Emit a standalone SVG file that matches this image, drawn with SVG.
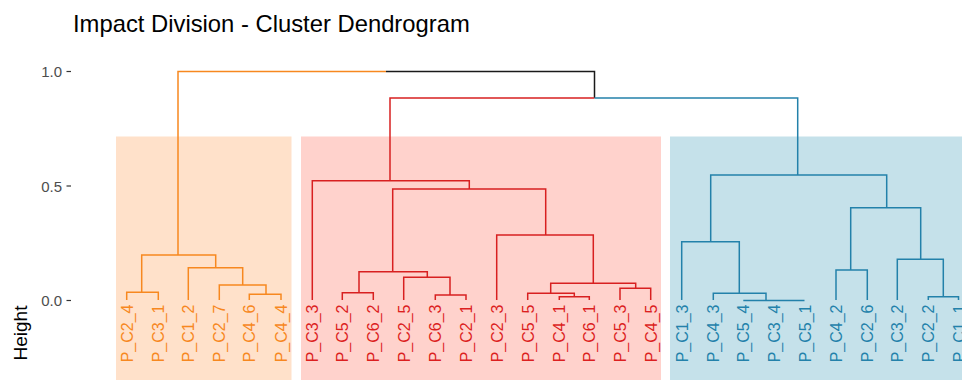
<svg xmlns="http://www.w3.org/2000/svg" width="962" height="380" viewBox="0 0 962 380">
<style>
.t{font-family:"Liberation Sans",Arial,sans-serif}
.lf{font-size:16px;text-anchor:end}
.o{fill:#F7881F}.r{fill:#DC1F1F}.b{fill:#2381AA}
.so{stroke:#F7881F}.sr{stroke:#D82020}.sb{stroke:#2381AA}.sk{stroke:#1a1a1a}
.ln{fill:none;stroke-width:1.5}
.tick{stroke:#333;stroke-width:1.2}
.ax{font-size:15px;fill:#4d4d4d;text-anchor:end}
</style>
<rect width="962" height="380" fill="#fff"/>
<g id="cluster-rects">
<rect x="116" y="136.5" width="175.5" height="243.5" fill="#FFE1CA"/>
<rect x="301" y="136.5" width="360" height="243.5" fill="#FFD2CC"/>
<rect x="670" y="136.5" width="292" height="243.5" fill="#C5E1EA"/>
</g>
<text class="t" x="73" y="31.5" font-size="23.8" fill="#000">Impact Division - Cluster Dendrogram</text>
<g id="axis">
<line class="tick" x1="66.5" y1="71.5" x2="71" y2="71.5"/>
<line class="tick" x1="66.5" y1="186" x2="71" y2="186"/>
<line class="tick" x1="66.5" y1="300.5" x2="71" y2="300.5"/>
<text class="t ax" x="62" y="77">1.0</text>
<text class="t ax" x="62" y="191.5">0.5</text>
<text class="t ax" x="62" y="306">0.0</text>
<text class="t" transform="translate(27,333) rotate(-90)" text-anchor="middle" font-size="19" fill="#000">Height</text>
</g>
<g id="connectors" class="ln">
<path class="sk" d="M386,71.5 H594.5 V98"/>
<path class="so" d="M386,71.5 H178 V255 M141.7,292.3 V255 H215.7 V267.7 M126.7,300 V292.3 H158.3 V300 M188.3,300 V267.7 H242.7 V285 M219.3,300 V285 H266 V294.3 M249.3,300 V294.3 H281 V300"/>
<path class="sr" d="M594.5,98 H390 V180.7 M312.3,300 V180.7 H469.3 V189 M392.7,271.7 V189 H545.7 V235 M359,292.7 V271.7 H427.3 V277.3 M342.3,300 V292.7 H373.3 V300 M403.7,300 V277.3 H450 V295 M435.3,300 V295 H466 V300 M496.7,300 V235 H593.3 V283.3 M550.7,293.3 V283.3 H635.7 V288.3 M527.7,300 V293.3 H574.3 V296.7 M559.3,300 V296.7 H589.3 V300 M620,300 V288.3 H650.7 V300"/>
<path class="sb" d="M594.5,98 H797.7 V175 M710.7,241.7 V175 H886.7 V207.7 M681.7,300 V241.7 H739.3 V293.3 M713.3,300 V293.3 H766 V300.5 M743.3,300.5 H804.5 M850.7,270 V207.7 H920.7 V259.3 M836,300 V270 H867.3 V300 M897.3,300 V259.3 H943.3 V296.7 M928.3,300 V296.7 H958.5 V300"/>
</g>
<g id="leaves">
<g id="P_C2_4"><text class="t lf o" transform="translate(126.7,304.5) rotate(-90)" dy="0.38em">P_C2_4</text></g>
<g id="P_C3_1"><text class="t lf o" transform="translate(158.3,304.5) rotate(-90)" dy="0.38em">P_C3_1</text></g>
<g id="P_C1_2"><text class="t lf o" transform="translate(188.3,304.5) rotate(-90)" dy="0.38em">P_C1_2</text></g>
<g id="P_C2_7"><text class="t lf o" transform="translate(219.3,304.5) rotate(-90)" dy="0.38em">P_C2_7</text></g>
<g id="P_C4_6"><text class="t lf o" transform="translate(249.3,304.5) rotate(-90)" dy="0.38em">P_C4_6</text></g>
<g id="P_C4_4"><text class="t lf o" transform="translate(281,304.5) rotate(-90)" dy="0.38em">P_C4_4</text></g>
<g id="P_C3_3"><text class="t lf r" transform="translate(312.3,304.5) rotate(-90)" dy="0.38em">P_C3_3</text></g>
<g id="P_C5_2"><text class="t lf r" transform="translate(342.3,304.5) rotate(-90)" dy="0.38em">P_C5_2</text></g>
<g id="P_C6_2"><text class="t lf r" transform="translate(373.3,304.5) rotate(-90)" dy="0.38em">P_C6_2</text></g>
<g id="P_C2_5"><text class="t lf r" transform="translate(403.7,304.5) rotate(-90)" dy="0.38em">P_C2_5</text></g>
<g id="P_C6_3"><text class="t lf r" transform="translate(435.3,304.5) rotate(-90)" dy="0.38em">P_C6_3</text></g>
<g id="P_C2_1"><text class="t lf r" transform="translate(466,304.5) rotate(-90)" dy="0.38em">P_C2_1</text></g>
<g id="P_C2_3"><text class="t lf r" transform="translate(496.7,304.5) rotate(-90)" dy="0.38em">P_C2_3</text></g>
<g id="P_C5_5"><text class="t lf r" transform="translate(527.7,304.5) rotate(-90)" dy="0.38em">P_C5_5</text></g>
<g id="P_C4_1"><text class="t lf r" transform="translate(559.3,304.5) rotate(-90)" dy="0.38em">P_C4_1</text></g>
<g id="P_C6_1"><text class="t lf r" transform="translate(589.3,304.5) rotate(-90)" dy="0.38em">P_C6_1</text></g>
<g id="P_C5_3"><text class="t lf r" transform="translate(620,304.5) rotate(-90)" dy="0.38em">P_C5_3</text></g>
<g id="P_C4_5"><text class="t lf r" transform="translate(650.7,304.5) rotate(-90)" dy="0.38em">P_C4_5</text></g>
<g id="P_C1_3"><text class="t lf b" transform="translate(681.7,304.5) rotate(-90)" dy="0.38em">P_C1_3</text></g>
<g id="P_C4_3"><text class="t lf b" transform="translate(713.3,304.5) rotate(-90)" dy="0.38em">P_C4_3</text></g>
<g id="P_C5_4"><text class="t lf b" transform="translate(743.3,304.5) rotate(-90)" dy="0.38em">P_C5_4</text></g>
<g id="P_C3_4"><text class="t lf b" transform="translate(773.5,304.5) rotate(-90)" dy="0.38em">P_C3_4</text></g>
<g id="P_C5_1"><text class="t lf b" transform="translate(804.5,304.5) rotate(-90)" dy="0.38em">P_C5_1</text></g>
<g id="P_C4_2"><text class="t lf b" transform="translate(836,304.5) rotate(-90)" dy="0.38em">P_C4_2</text></g>
<g id="P_C2_6"><text class="t lf b" transform="translate(867.3,304.5) rotate(-90)" dy="0.38em">P_C2_6</text></g>
<g id="P_C3_2"><text class="t lf b" transform="translate(897.3,304.5) rotate(-90)" dy="0.38em">P_C3_2</text></g>
<g id="P_C2_2"><text class="t lf b" transform="translate(928.3,304.5) rotate(-90)" dy="0.38em">P_C2_2</text></g>
<g id="P_C1_1"><text class="t lf b" transform="translate(958.5,304.5) rotate(-90)" dy="0.38em">P_C1_1</text></g>
</g>
</svg>
